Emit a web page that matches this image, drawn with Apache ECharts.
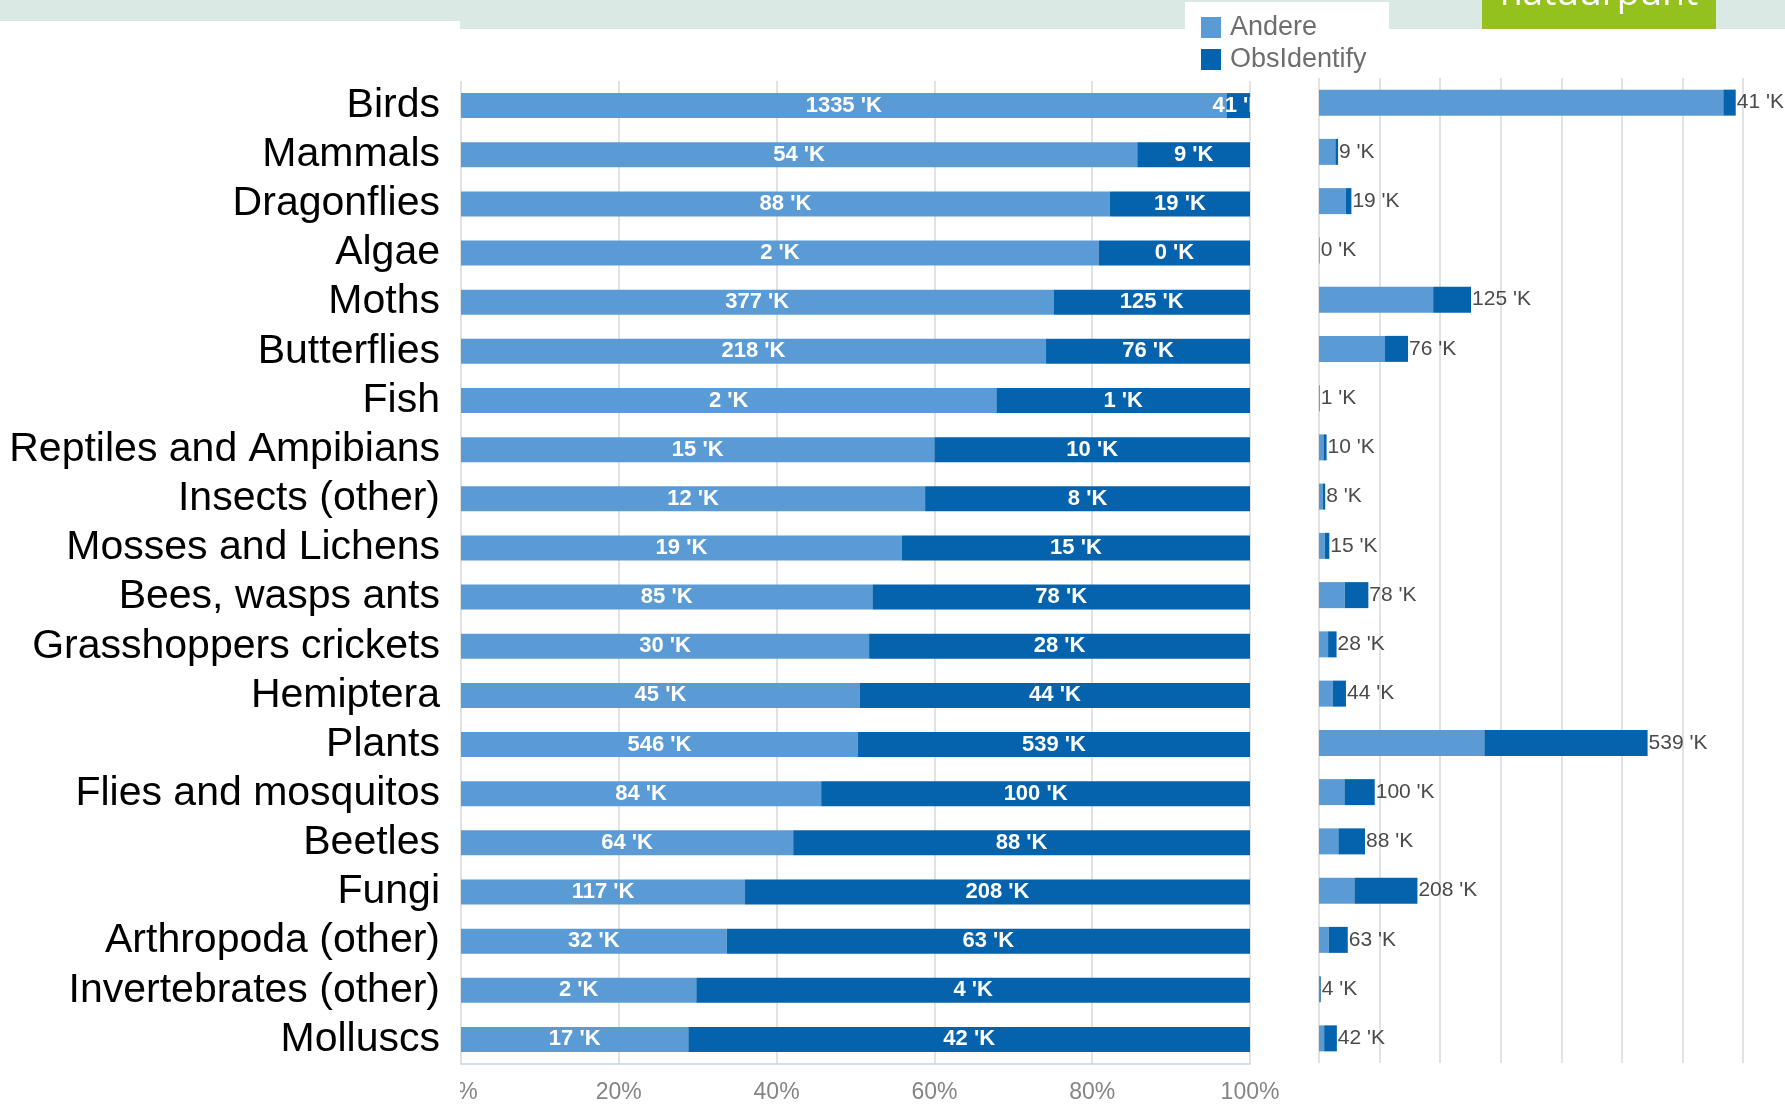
<!DOCTYPE html>
<html>
<head>
<meta charset="utf-8">
<script src="https://cdn.jsdelivr.net/npm/echarts@6/dist/echarts.min.js"></script>
<style>
html,body{margin:0;padding:0;background:#ffffff;}
#c{width:1785px;height:1104px;}
</style>
</head>
<body>
<div id="c"></div>
<script>
// ---- data (thousands of observations) ----
const categories = ['Birds','Mammals','Dragonflies','Algae','Moths','Butterflies','Fish',
  'Reptiles and Ampibians','Insects (other)','Mosses and Lichens','Bees, wasps ants',
  'Grasshoppers crickets','Hemiptera','Plants','Flies and mosquitos','Beetles','Fungi',
  'Arthropoda (other)','Invertebrates (other)','Molluscs'];
const andere      = [1335, 54, 88, 1.9, 377, 218, 1.9, 15, 12, 19, 85, 30, 45, 546, 84, 64, 117, 32, 1.7, 17];
const obsIdentify = [41, 9, 19, 0.45, 125, 76, 0.9, 10, 8.4, 15, 78, 28, 44, 539, 100, 88, 208, 63, 4.0, 42];
const seriesNames = ['Andere', 'ObsIdentify'];
const pctTicks = [0, 20, 40, 60, 80, 100];
const absMax = 1400, absStep = 200;

// share of each source per category (100% stacked view)
const pctAndere = andere.map((v, i) => v / (v + obsIdentify[i]) * 100);
const pctObs = obsIdentify.map((v, i) => v / (andere[i] + v) * 100);

const C_ANDERE = '#5b9bd5';
const C_OBS = '#0563ad';
const fmtK = v => Math.round(v) + " 'K";

const chart = echarts.init(document.getElementById('c'), null, {renderer: 'canvas'});

const inLabel = {
  show: true, position: 'inside', color: '#ffffff', fontFamily: 'Liberation Sans, Arial, sans-serif',
  fontWeight: 'bold', fontSize: 22
};

chart.setOption({
  backgroundColor: '#ffffff',
  animation: false,
  legend: {
    data: seriesNames,
    orient: 'vertical',
    left: 1196, top: 9,
    itemWidth: 20, itemHeight: 21, itemGap: 5,
    icon: 'rect',
    z: 10,
    textStyle: {fontFamily: 'Liberation Sans, Arial, sans-serif', fontSize: 27, color: '#6e6e6e', padding: [0,0,0,4]}
  },
  grid: [
    {left: 461, top: 81, width: 789, height: 991},
    {left: 1319, top: 78, width: 424, height: 985}
  ],
  xAxis: [
    {
      gridIndex: 0, type: 'value', min: 0, max: 100, interval: 20, z: 1,
      axisLine: {show: true, lineStyle: {color: '#bcd3ea', width: 1.5}},
      axisTick: {show: false},
      splitLine: {show: true, lineStyle: {color: '#d9d9d9', width: 1.5}},
      axisLabel: {
        margin: 17, color: '#858585', fontSize: 23, fontFamily: 'Liberation Sans, Arial, sans-serif',
        formatter: v => pctTicks.includes(v) ? v + '%' : ''
      }
    },
    {
      gridIndex: 1, type: 'value', min: 0, max: absMax, interval: absStep,
      axisLine: {show: false}, axisTick: {show: false}, axisLabel: {show: false},
      splitLine: {show: true, lineStyle: {color: '#d9d9d9', width: 1.5}}
    }
  ],
  yAxis: [
    {
      gridIndex: 0, type: 'category', data: categories, inverse: true, z: 6,
      axisLine: {show: false}, axisTick: {show: false},
      axisLabel: {interval: 0, margin: 21, color: '#000000', fontSize: 41, fontFamily: 'Liberation Sans, Arial, sans-serif'}
    },
    {
      gridIndex: 1, type: 'category', data: categories, inverse: true,
      axisLine: {show: false}, axisTick: {show: false}, axisLabel: {show: false}
    }
  ],
  series: [
    {
      name: seriesNames[0], type: 'bar', stack: 'pct', xAxisIndex: 0, yAxisIndex: 0,
      data: pctAndere, barWidth: 25, itemStyle: {color: C_ANDERE},
      label: Object.assign({}, inLabel, {formatter: p => fmtK(andere[p.dataIndex])})
    },
    {
      name: seriesNames[1], type: 'bar', stack: 'pct', xAxisIndex: 0, yAxisIndex: 0,
      data: pctObs, barWidth: 25, itemStyle: {color: C_OBS},
      label: Object.assign({}, inLabel, {formatter: p => fmtK(obsIdentify[p.dataIndex])})
    },
    {
      name: seriesNames[0], type: 'bar', stack: 'abs', xAxisIndex: 1, yAxisIndex: 1,
      data: andere, barWidth: 26, itemStyle: {color: C_ANDERE}
    },
    {
      name: seriesNames[1], type: 'bar', stack: 'abs', xAxisIndex: 1, yAxisIndex: 1,
      data: obsIdentify, barWidth: 26, itemStyle: {color: C_OBS},
      label: {
        show: true, position: 'right', distance: 1, color: '#4a4a4a', fontSize: 21,
        fontFamily: 'Liberation Sans, Arial, sans-serif',
        formatter: p => fmtK(p.value)
      }
    }
  ],
  graphic: {
    elements: [
      {type: 'rect', z: 0, silent: true, shape: {x: 0, y: 0, width: 1785, height: 29}, style: {fill: '#dae9e3'}},
      {type: 'rect', z: 3, silent: true, shape: {x: 0, y: 21, width: 460, height: 1083}, style: {fill: '#ffffff'}},
      {type: 'rect', z: 3, silent: true, shape: {x: 1185, y: 2, width: 204, height: 70}, style: {fill: '#ffffff'}},
      {type: 'rect', z: 3, silent: true, shape: {x: 1482, y: 0, width: 234, height: 29}, style: {fill: '#95c11f'}},
      {type: 'text', z: 4, silent: true, x: 1599, y: -6,
        style: {text: 'natuurpunt', fill: '#ffffff', font: '37px "Open Sans", sans-serif', textAlign: 'center', textVerticalAlign: 'middle'}}
    ]
  }
});
</script>
</body>
</html>
